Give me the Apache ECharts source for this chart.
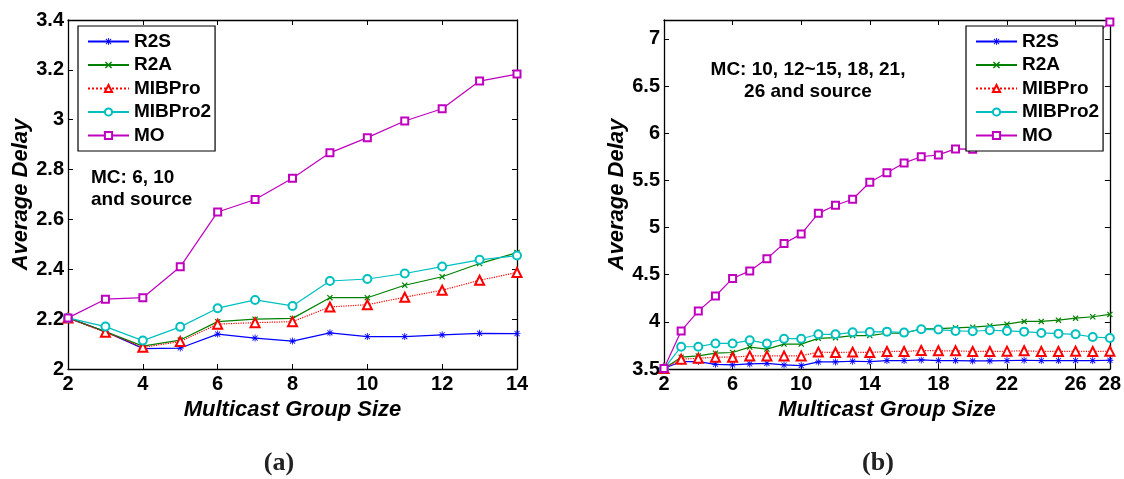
<!DOCTYPE html>
<html>
<head>
<meta charset="utf-8">
<script src="https://cdn.jsdelivr.net/npm/echarts@6/dist/echarts.min.js"></script>
<style>html,body{margin:0;padding:0;background:#fff}#c{width:1124px;height:479px}</style>
</head>
<body>
<div id="c"></div>
<script>
// ---------- data ----------
const seriesNames = ['R2S', 'R2A', 'MIBPro', 'MIBPro2', 'MO'];

// (a)
const xA = [2, 3, 4, 5, 6, 7, 8, 9, 10, 11, 12, 13, 14];
const r2sA  = [2.205, 2.15, 2.082, 2.084, 2.14, 2.124, 2.112, 2.145, 2.13, 2.13, 2.137, 2.143, 2.142];
const r2aA  = [2.205, 2.15, 2.092, 2.116, 2.19, 2.2, 2.203, 2.286, 2.286, 2.336, 2.37, 2.423, 2.467];
const mibA  = [2.205, 2.147, 2.087, 2.11, 2.18, 2.186, 2.19, 2.249, 2.258, 2.288, 2.316, 2.356, 2.387];
const mib2A = [2.205, 2.17, 2.114, 2.169, 2.244, 2.277, 2.253, 2.353, 2.361, 2.383, 2.411, 2.438, 2.455];
const moA   = [2.205, 2.28, 2.286, 2.41, 2.63, 2.68, 2.765, 2.867, 2.928, 2.995, 3.044, 3.155, 3.183];
const xTicksA = [2, 4, 6, 8, 10, 12, 14];
const yTicksA = [2, 2.2, 2.4, 2.6, 2.8, 3, 3.2, 3.4];

// (b)
const xB = [2, 3, 4, 5, 6, 7, 8, 9, 10, 11, 12, 13, 14, 15, 16, 17, 18, 19, 20, 21, 22, 23, 24, 25, 26, 27, 28];
const r2sB  = [3.505, 3.579, 3.579, 3.55, 3.543, 3.554, 3.56, 3.543, 3.536, 3.575, 3.575, 3.582, 3.579, 3.589, 3.589, 3.596, 3.589, 3.589, 3.586, 3.586, 3.589, 3.593, 3.589, 3.589, 3.589, 3.589, 3.593];
const r2aB  = [3.505, 3.625, 3.639, 3.668, 3.675, 3.732, 3.711, 3.764, 3.764, 3.825, 3.832, 3.854, 3.854, 3.879, 3.879, 3.925, 3.929, 3.936, 3.943, 3.957, 3.975, 4.004, 4.004, 4.018, 4.039, 4.054, 4.079];
const mibB  = [3.505, 3.604, 3.614, 3.625, 3.625, 3.639, 3.639, 3.639, 3.639, 3.679, 3.675, 3.679, 3.675, 3.686, 3.686, 3.696, 3.693, 3.693, 3.686, 3.686, 3.689, 3.693, 3.686, 3.686, 3.689, 3.686, 3.689];
const mib2B = [3.505, 3.736, 3.736, 3.771, 3.771, 3.804, 3.771, 3.821, 3.821, 3.868, 3.868, 3.889, 3.893, 3.896, 3.886, 3.921, 3.918, 3.904, 3.9, 3.911, 3.904, 3.896, 3.882, 3.875, 3.868, 3.839, 3.829];
const moB   = [3.505, 3.904, 4.114, 4.274, 4.46, 4.54, 4.67, 4.83, 4.93, 5.15, 5.236, 5.30, 5.48, 5.58, 5.685, 5.75, 5.77, 5.833, 5.83, 5.95, 6.1, 6.25, 6.42, 6.6, 6.8, 7.01, 7.18];
const xTicksB = [2, 6, 10, 14, 18, 22, 26, 28];
const yTicksB = [3.5, 4, 4.5, 5, 5.5, 6, 6.5, 7];

const annotA = 'MC: 6, 10\nand source';
const annotB = 'MC: 10, 12~15, 18, 21,\n26 and source';
const xTitle = 'Multicast Group Size';
const yTitle = 'Average Delay';

// ---------- styling ----------
const FONT = '"Liberation Sans", Arial, Helvetica, sans-serif';
const colors = ['#0000ff', '#008000', '#ff0000', '#00bfbf', '#bf00bf'];
const starPath = 'path://M4.4,0L5.6,0L5.6,10L4.4,10ZM0,4.4L10,4.4L10,5.6L0,5.6ZM1,1.8L1.8,1L9,8.2L8.2,9ZM8.2,1L9,1.8L1.8,9L1,8.2Z';
const xPath = 'path://M0.8,2L2,0.8L9.2,8L8,9.2ZM8,0.8L9.2,2L2,9.2L0.8,8Z';
const symbols = [starPath, xPath, 'emptyTriangle', 'emptyCircle', 'emptyRect'];
const symbolSizes = [7, 6, 9, 8, 7];
const lineTypes = ['solid', 'solid', 'dotted', 'solid', 'solid'];

const grids = [
  { left: 68, top: 20, width: 449, height: 349 },
  { left: 664, top: 20, width: 447, height: 349 }
];

function pairs(xs, ys) { return xs.map((x, i) => [x, ys[i]]); }

const axisLineStyle = { lineStyle: { color: '#000', width: 1.3 } };
const tickStyle = { inside: true, length: 5, lineStyle: { color: '#000', width: 1 } };
const labelStyle = { color: '#000', fontSize: 20, fontWeight: 'bold', fontFamily: FONT };
const nameStyle = { color: '#000', fontSize: 22, fontWeight: 'bold', fontStyle: 'italic', fontFamily: FONT };

function xAxes(gi, min, max, ticks) {
  return [
    { type: 'value', gridIndex: gi, position: 'bottom', min: min, max: max,
      name: xTitle, nameLocation: 'middle', nameGap: 30, nameTextStyle: nameStyle,
      axisLine: axisLineStyle, splitLine: { show: false },
      axisTick: Object.assign({ customValues: ticks }, tickStyle),
      axisLabel: Object.assign({ customValues: ticks, margin: 5 }, labelStyle) },
    { type: 'value', gridIndex: gi, position: 'top', min: min, max: max,
      axisLine: axisLineStyle, splitLine: { show: false },
      axisTick: Object.assign({ customValues: ticks }, tickStyle),
      axisLabel: { show: false } }
  ];
}
function yAxes(gi, min, max, ticks) {
  return [
    { type: 'value', gridIndex: gi, position: 'left', min: min, max: max,
      name: yTitle, nameLocation: 'middle', nameGap: 34, nameTextStyle: nameStyle,
      axisLine: axisLineStyle, splitLine: { show: false },
      axisTick: Object.assign({ customValues: ticks }, tickStyle),
      axisLabel: Object.assign({ customValues: ticks, margin: 4 }, labelStyle) },
    { type: 'value', gridIndex: gi, position: 'right', min: min, max: max,
      axisLine: axisLineStyle, splitLine: { show: false },
      axisTick: Object.assign({ customValues: ticks }, tickStyle),
      axisLabel: { show: false } }
  ];
}

const dataA = [r2sA, r2aA, mibA, mib2A, moA];
const dataB = [r2sB, r2aB, mibB, mib2B, moB];

const series = [];
[[xA, dataA, 0], [xB, dataB, 1]].forEach(([xs, sets, gi]) => {
  sets.forEach((ys, k) => {
    series.push({
      type: 'line', name: seriesNames[k],
      xAxisIndex: gi * 2, yAxisIndex: gi * 2,
      data: pairs(xs, ys),
      symbol: symbols[k], symbolSize: symbolSizes[k], showAllSymbol: true,
      lineStyle: { color: colors[k], width: 1.2, type: lineTypes[k] },
      itemStyle: { color: colors[k], borderWidth: 1 },
      emphasis: { disabled: true },
      animation: false, z: 2 + k * 0.01
    });
  });
});

function legend(left) {
  return {
    orient: 'vertical', left: left, top: 26,
    data: seriesNames,
    backgroundColor: '#fff', borderColor: '#000', borderWidth: 1.2,
    padding: [6, 4, 6, 9], itemGap: 4.5, itemWidth: 41, itemHeight: 9,
    textStyle: { color: '#000', fontSize: 19, fontWeight: 'bold', fontFamily: FONT },
    selectedMode: false, z: 10
  };
}

const textStyleAnn = { fill: '#000', fontSize: 19, fontWeight: 'bold', fontFamily: FONT, lineHeight: 22 };
const capStyle = { fill: '#222', fontSize: 26, fontWeight: 'bold', fontFamily: '"Liberation Serif", "DejaVu Serif", serif' };

const option = {
  animation: false,
  backgroundColor: '#fff',
  grid: grids,
  xAxis: [].concat(xAxes(0, 2, 14, xTicksA), xAxes(1, 2, 28, xTicksB)),
  yAxis: [].concat(yAxes(0, 2, 3.4, yTicksA), yAxes(1, 3.5, 7.2, yTicksB)),
  legend: [legend(78), legend(966)],
  series: series,
  graphic: [
    { type: 'text', left: 91, top: 167, z: 20, style: Object.assign({ text: annotA, align: 'left' }, textStyleAnn) },
    { type: 'text', x: 808, y: 59, z: 20, style: Object.assign({ text: annotB, align: 'center', verticalAlign: 'top' }, textStyleAnn) },
    { type: 'text', x: 279, y: 463, z: 20, style: Object.assign({ text: '(a)', align: 'center', verticalAlign: 'middle' }, capStyle) },
    { type: 'text', x: 878, y: 463, z: 20, style: Object.assign({ text: '(b)', align: 'center', verticalAlign: 'middle' }, capStyle) }
  ]
};

const chart = echarts.init(document.getElementById('c'), null, { renderer: 'canvas' });
chart.setOption(option);
</script>
</body>
</html>
